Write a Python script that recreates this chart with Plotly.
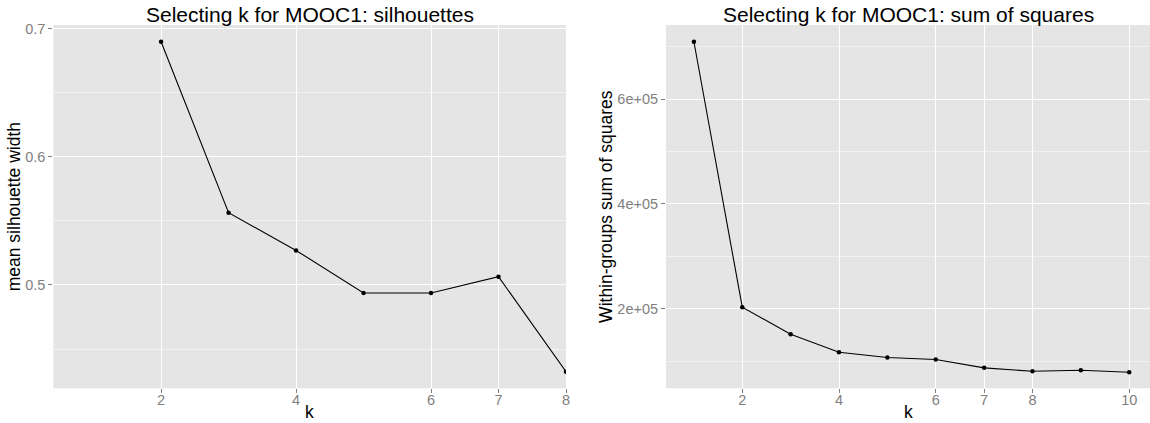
import plotly.graph_objects as go

# ---- data ----
k_sil = [2, 3, 4, 5, 6, 7, 8]
sil_width = [0.690, 0.5565, 0.527, 0.4938, 0.4938, 0.5065, 0.4323]

k_ss = [1, 2, 3, 4, 5, 6, 7, 8, 9, 10]
wss = [709500, 203000, 151400, 117000, 106900, 103100, 87200, 80700, 82600, 78800]

sil_xticks = [2, 4, 6, 7, 8]
ss_xticks = [2, 4, 6, 7, 8, 10]
sil_yticks = [0.5, 0.6, 0.7]
sil_yminor = [0.45, 0.55, 0.65]
ss_yticks = [200000, 400000, 600000]
ss_yticktext = ["2e+05", "4e+05", "6e+05"]
ss_yminor = [100000, 300000, 500000, 700000]

titles = ["Selecting k for MOOC1: silhouettes", "Selecting k for MOOC1: sum of squares"]
xtitle = "k"
ytitles = ["mean silhouette width", "Within-groups sum of squares"]

FONT = "Liberation Sans, Arial, Helvetica, sans-serif"
BG = "#E5E5E5"
GRID = "#FFFFFF"
MINOR = "#F2F2F2"
TICKC = "#7F7F7F"

fig = go.Figure()

fig.add_trace(go.Scatter(x=k_sil, y=sil_width, mode="lines+markers",
                         line=dict(color="#000000", width=1.1),
                         marker=dict(color="#000000", size=4.5),
                         xaxis="x", yaxis="y", showlegend=False))
fig.add_trace(go.Scatter(x=k_ss, y=wss, mode="lines+markers",
                         line=dict(color="#000000", width=1.1),
                         marker=dict(color="#000000", size=4.5),
                         xaxis="x2", yaxis="y2", showlegend=False))

W, H = 1150, 423
ydom = [1 - 388.3 / H, 1 - 25 / H]

common_x = dict(showgrid=True, gridcolor=GRID, gridwidth=1.3, zeroline=False,
                showline=False, ticks="outside", ticklen=4, tickcolor=TICKC,
                tickwidth=1, tickfont=dict(family=FONT, size=14.5, color=TICKC),
                tickmode="array", automargin=False, ticklabelstandoff=-6)
common_y = dict(showgrid=True, gridcolor=GRID, gridwidth=1.3, zeroline=False,
                showline=False, ticks="outside", ticklen=4, tickcolor=TICKC,
                tickwidth=1, tickfont=dict(family=FONT, size=14.5, color=TICKC),
                tickmode="array", automargin=False)

fig.update_layout(
    width=W, height=H,
    margin=dict(l=0, r=0, t=0, b=0),
    paper_bgcolor="#FFFFFF",
    plot_bgcolor=BG,
    font=dict(family=FONT),
    xaxis=dict(common_x, domain=[53.3 / W, 566 / W], range=[0.403, 8.0],
               tickvals=sil_xticks, anchor="y"),
    yaxis=dict(common_y, domain=ydom, range=[0.4193, 0.7031], tickvals=sil_yticks,
               ticktext=[f"{v:.1f}" for v in sil_yticks], anchor="x",
               minor=dict(tickvals=sil_yminor, showgrid=True, gridcolor=MINOR, gridwidth=0.8, ticks=""),
               title=dict(text=ytitles[0], font=dict(family=FONT, size=17.5, color="#000000"), standoff=0)),
    xaxis2=dict(common_x, domain=[666 / W, 1.0], range=[0.423, 10.43],
                tickvals=ss_xticks, anchor="y2"),
    yaxis2=dict(common_y, domain=ydom, range=[48200, 741500], tickvals=ss_yticks,
                ticktext=ss_yticktext, anchor="x2",
                minor=dict(tickvals=ss_yminor, showgrid=True, gridcolor=MINOR, gridwidth=0.8, ticks=""),
                title=dict(text=ytitles[1], font=dict(family=FONT, size=17.5, color="#000000"), standoff=0)),
)

for i, t in enumerate(titles):
    xr = "x domain" if i == 0 else "x2 domain"
    fig.add_annotation(text=t, xref=xr, x=0.5,
                       yref="paper", y=1 - 14.5 / H, yanchor="middle", xanchor="center",
                       showarrow=False, font=dict(family=FONT, size=21, color="#000000"))
    # x-axis title
    fig.add_annotation(text=xtitle, xref=xr, x=0.5,
                       yref="paper", y=0, yanchor="bottom", yshift=0, borderpad=0,
                       xanchor="center", showarrow=False,
                       font=dict(family=FONT, size=17.5, color="#000000"))

fig.write_html("out.html", config={"displayModeBar": False},
               post_script="document.body.style.margin='0';document.body.style.overflow='hidden';")
